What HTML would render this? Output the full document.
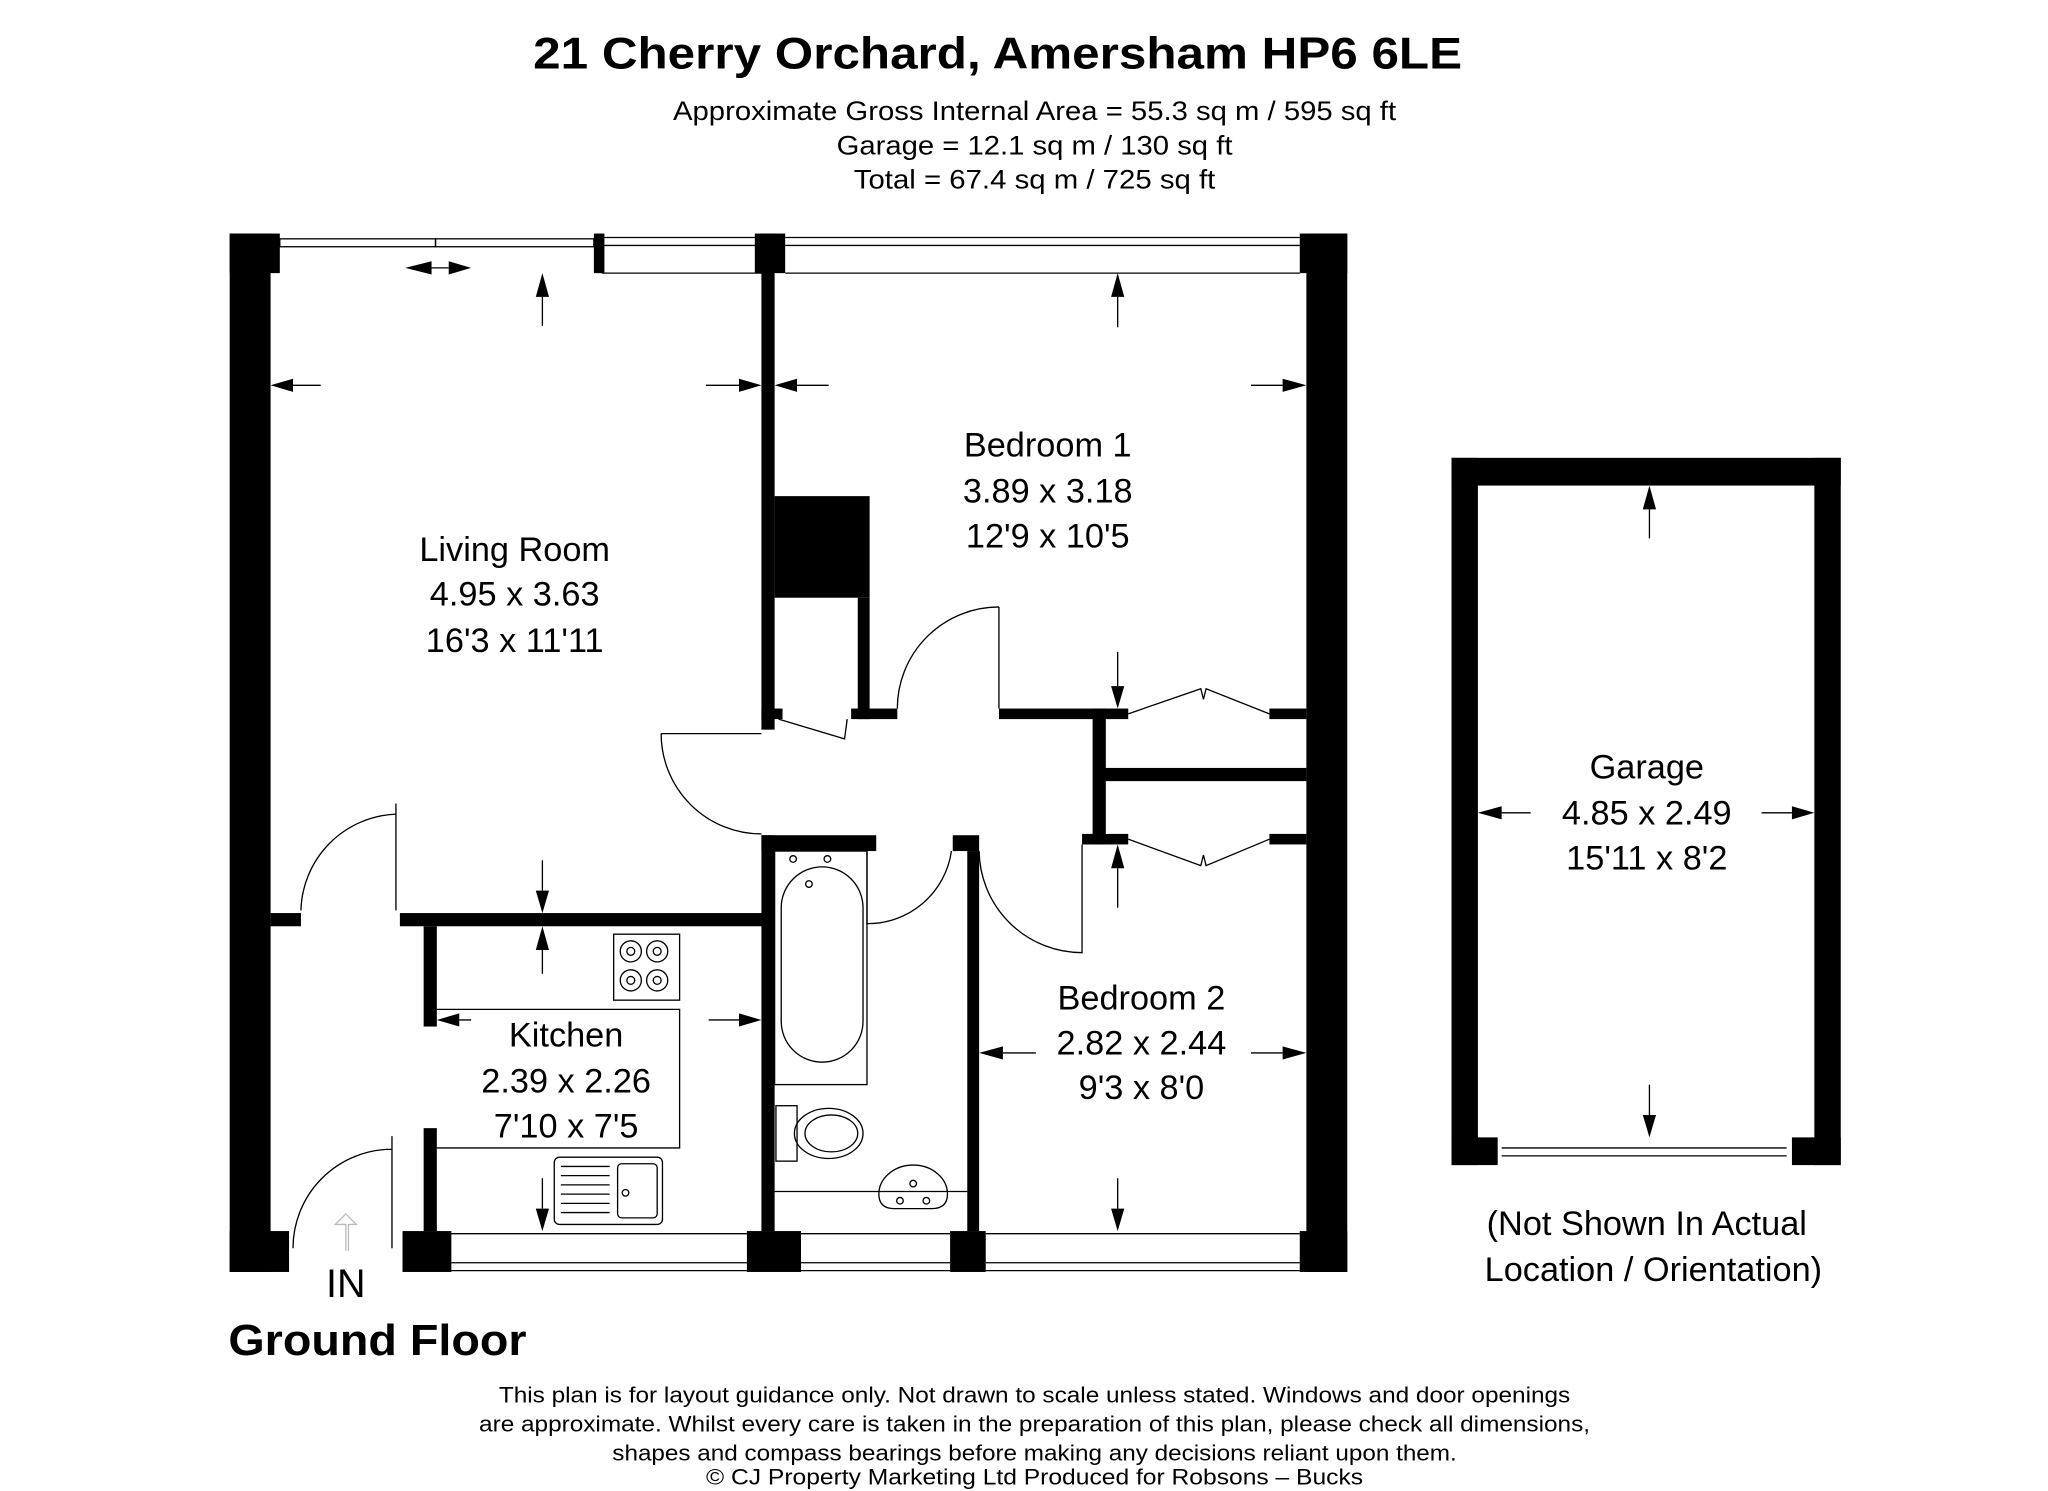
<!DOCTYPE html>
<html><head><meta charset="utf-8"><style>
html,body{margin:0;padding:0;background:#fff}
svg{display:block}
text{font-family:"Liberation Sans",Arial,sans-serif;fill:#000}
</style></head><body>
<svg width="2048" height="1491" viewBox="0 0 1552 1130" xmlns="http://www.w3.org/2000/svg">
<rect width="1552" height="1130" fill="#fff"/>
<text x="756" y="52" font-size="34" font-weight="bold" text-anchor="middle" textLength="704" lengthAdjust="spacingAndGlyphs">21 Cherry Orchard, Amersham HP6 6LE</text>
<g font-size="20" text-anchor="middle">
<text x="784" y="91" textLength="548" lengthAdjust="spacingAndGlyphs">Approximate Gross Internal Area = 55.3 sq m / 595 sq ft</text>
<text x="784" y="117" textLength="300" lengthAdjust="spacingAndGlyphs">Garage = 12.1 sq m / 130 sq ft</text>
<text x="784" y="143" textLength="274" lengthAdjust="spacingAndGlyphs">Total = 67.4 sq m / 725 sq ft</text>
</g>
<g fill="none" stroke="#000" stroke-width="1">
<rect x="212" y="181" width="118" height="6"/><rect x="330" y="181" width="120" height="6"/>
<line x1="456" y1="180" x2="578" y2="180"/><line x1="456" y1="186" x2="578" y2="186"/><line x1="456" y1="207" x2="578" y2="207"/>
<line x1="595" y1="180" x2="985" y2="180"/><line x1="595" y1="186" x2="985" y2="186"/><line x1="595" y1="207" x2="985" y2="207"/>
<line x1="342" y1="935" x2="566" y2="935"/><line x1="342" y1="957" x2="566" y2="957"/><line x1="342" y1="963" x2="566" y2="963"/>
<line x1="607" y1="935" x2="720" y2="935"/><line x1="607" y1="957" x2="720" y2="957"/><line x1="607" y1="963" x2="720" y2="963"/>
<line x1="747" y1="935" x2="985" y2="935"/><line x1="747" y1="957" x2="985" y2="957"/><line x1="747" y1="963" x2="985" y2="963"/>
<line x1="1138" y1="870" x2="1354" y2="870"/><line x1="1138" y1="876" x2="1354" y2="876"/>
</g>
<g fill="#000">
<rect x="174" y="177" width="31" height="787"/><rect x="174" y="177" width="38" height="30"/>
<rect x="450" y="177" width="8" height="30"/><rect x="572" y="177" width="23" height="30"/>
<rect x="985" y="177" width="36" height="30"/><rect x="990" y="177" width="31" height="787"/>
<rect x="174" y="933" width="45" height="31"/><rect x="305" y="933" width="37" height="31"/>
<rect x="566" y="933" width="41" height="31"/><rect x="720" y="933" width="27" height="31"/>
<rect x="985" y="933" width="36" height="31"/>
<rect x="577" y="177" width="10" height="376"/>
<rect x="587" y="376" width="72" height="77"/>
<rect x="650" y="453" width="9" height="92"/>
<rect x="645" y="537" width="35" height="8"/>
<rect x="577" y="537" width="16" height="8"/>
<rect x="757" y="537" width="78" height="8"/>
<rect x="828" y="537" width="10" height="103"/>
<rect x="835" y="537" width="20" height="8"/><rect x="962" y="537" width="28" height="8"/>
<rect x="835" y="582" width="155" height="10"/>
<rect x="820" y="632" width="35" height="8"/><rect x="962" y="632" width="28" height="8"/>
<rect x="205" y="692" width="23" height="10"/><rect x="303" y="692" width="284" height="10"/>
<rect x="577" y="633" width="10" height="300"/>
<rect x="577" y="633" width="87" height="12"/>
<rect x="722" y="633" width="20" height="12"/>
<rect x="733" y="645" width="9" height="288"/>
<rect x="321" y="702" width="10" height="76"/><rect x="321" y="855" width="10" height="78"/>
<rect x="1100" y="347" width="295" height="21"/>
<rect x="1100" y="347" width="20" height="536"/><rect x="1375" y="347" width="20" height="536"/>
<rect x="1100" y="862" width="35" height="21"/><rect x="1358" y="862" width="37" height="21"/>
</g>
<g fill="none" stroke="#000" stroke-width="1">
<path d="M501 556 L577 556 M501 556 A76 76 0 0 0 577 632"/>
<path d="M590 545 L640 560 L642 545"/>
<path d="M757 460 L757 537 M680 537 A77 77 0 0 1 757 460"/>
<path d="M657 640 L657 700 A64 64 0 0 0 721 645"/>
<path d="M820 640 L820 722 A78 78 0 0 1 742 645"/>
<path d="M855 541 L910 522 L912 530 L914 522 L962 541"/>
<path d="M855 636 L910 656 L912 648 L914 656 L962 636"/>
<path d="M300 609 L300 690 M228 690 A75 75 0 0 1 300 617"/>
<path d="M297 861 L297 946 M222 946 A75 75 0 0 1 297 871"/>
<path d="M331 765 L515 765 L515 870 L331 870"/>
<rect x="465" y="708" width="50" height="50"/>
<circle cx="478" cy="721" r="8"/><circle cx="478" cy="721" r="3"/>
<circle cx="498" cy="721" r="8"/><circle cx="498" cy="721" r="3"/>
<circle cx="478" cy="743" r="8"/><circle cx="478" cy="743" r="3"/>
<circle cx="498" cy="743" r="8"/><circle cx="498" cy="743" r="3"/>
<rect x="420" y="877" width="82" height="51" rx="4"/>
<rect x="468" y="882" width="30" height="41" rx="3"/>
<circle cx="474" cy="904" r="2.5"/>
<path d="M425 884 H462 M425 891 H462 M425 898 H462 M425 905 H462 M425 912 H462 M425 919 H462"/>
<rect x="587" y="645" width="70" height="177"/>
<rect x="592" y="657" width="62" height="148" rx="31"/>
<circle cx="601" cy="651" r="2.5"/><circle cx="627" cy="651" r="2.5"/><circle cx="613" cy="670" r="2.5"/>
<rect x="588" y="838" width="16" height="42"/>
<ellipse cx="628" cy="859" rx="26" ry="19"/><ellipse cx="630" cy="859" rx="20" ry="14"/>
<line x1="587" y1="903" x2="733" y2="903"/>
<path d="M666 905 A26 22 0 1 1 718 905 Q718 916 706 916 L678 916 Q666 916 666 905 Z"/>
<circle cx="692" cy="897" r="2.5"/><circle cx="682" cy="910" r="2.5"/><circle cx="702" cy="910" r="2.5"/>
<path d="M222 292 H243 M535 292 H560 M604 292 H628 M948 292 H972 M411 225 V247 M411 652 V675 M411 720 V738 M357 773 H348 M537 773 H560 M411 893 V916 M847 225 V248 M847 494 V520 M847 658 V688 M847 893 V916 M760 798 H785 M948 798 H972 M1250 386 V408 M1250 822 V845 M1138 616 H1160 M1335 616 H1358 M327 203 H340"/>
</g>
<g fill="#000">
<path d="M205 292 L222 287 L222 297Z M577 292 L560 287 L560 297Z M587 292 L604 287 L604 297Z M990 292 L972 287 L972 297Z"/>
<path d="M411 207 L406 225 L416 225Z M411 692 L406 675 L416 675Z M411 702 L406 720 L416 720Z M411 933 L406 916 L416 916Z"/>
<path d="M331 773 L348 768 L348 778Z M577 773 L560 768 L560 778Z"/>
<path d="M847 207 L842 225 L852 225Z M847 537 L842 520 L852 520Z M847 640 L842 658 L852 658Z M847 933 L842 916 L852 916Z"/>
<path d="M742 798 L760 793 L760 803Z M990 798 L972 793 L972 803Z"/>
<path d="M1250 368 L1245 386 L1255 386Z M1250 862 L1245 845 L1255 845Z M1120 616 L1138 611 L1138 621Z M1375 616 L1358 611 L1358 621Z"/>
<path d="M307 203 L327 198 L327 208Z M357 203 L340 198 L340 208Z"/>
</g>
<path d="M262 948 V928 H254 L262 920 L270 928 H264 V948" fill="none" stroke="#bbb" stroke-width="1"/>
<g font-size="26" text-anchor="middle">
<text x="390" y="425">Living Room</text><text x="390" y="459">4.95 x 3.63</text><text x="390" y="494">16'3 x 11'11</text>
<text x="794" y="346">Bedroom 1</text><text x="794" y="381">3.89 x 3.18</text><text x="794" y="415">12'9 x 10'5</text>
<text x="429" y="793">Kitchen</text><text x="429" y="828">2.39 x 2.26</text><text x="429" y="862">7'10 x 7'5</text>
<text x="865" y="765">Bedroom 2</text><text x="865" y="799">2.82 x 2.44</text><text x="865" y="833">9'3 x 8'0</text>
<text x="1248" y="590">Garage</text><text x="1248" y="625">4.85 x 2.49</text><text x="1248" y="659">15'11 x 8'2</text>
<text x="1248" y="936">(Not Shown In Actual</text><text x="1253" y="971">Location / Orientation)</text>
</g>
<text x="262" y="983" font-size="30" text-anchor="middle">IN</text>
<text x="173" y="1027" font-size="33" font-weight="bold" textLength="226" lengthAdjust="spacingAndGlyphs">Ground Floor</text>
<g font-size="17" text-anchor="middle">
<text x="784" y="1063" textLength="812" lengthAdjust="spacingAndGlyphs">This plan is for layout guidance only. Not drawn to scale unless stated. Windows and door openings</text>
<text x="784" y="1085" textLength="842" lengthAdjust="spacingAndGlyphs">are approximate. Whilst every care is taken in the preparation of this plan, please check all dimensions,</text>
<text x="784" y="1107" textLength="640" lengthAdjust="spacingAndGlyphs">shapes and compass bearings before making any decisions reliant upon them.</text>
<text x="784" y="1125" textLength="498" lengthAdjust="spacingAndGlyphs">© CJ Property Marketing Ltd Produced for  Robsons – Bucks</text>
</g>
</svg>
</body></html>
